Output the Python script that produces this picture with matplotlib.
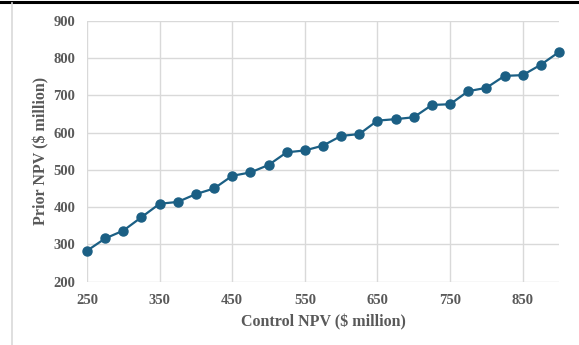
import matplotlib
matplotlib.use('Agg')
import matplotlib.pyplot as plt
from matplotlib.lines import Line2D
import numpy as np

control_npv = [250, 275, 300, 325, 350, 375, 400, 425, 450, 475, 500, 525, 550,
               575, 600, 625, 650, 675, 700, 725, 750, 775, 800, 825, 850, 875, 900]
prior_npv = [283, 316, 337, 373, 409, 414, 435, 450, 484, 493, 513, 547, 552,
             565, 591, 596, 632, 636, 641, 674, 676, 711, 720, 752, 754, 782, 816]

x_ticks = [250, 350, 450, 550, 650, 750, 850]
y_ticks = [200, 300, 400, 500, 600, 700, 800, 900]

plt.rcParams['font.family'] = ['Liberation Serif', 'DejaVu Serif']
txt_col = '#595959'

fig = plt.figure(figsize=(5.79, 3.45), dpi=100)
ax = fig.add_axes([87/579, 1 - 281.7/345, (559 - 87)/579, (281.7 - 20.7)/345])

ax.plot(control_npv, prior_npv, color='#1b5f84', lw=1.6, marker='o',
        markersize=6.5, zorder=3, clip_on=False)

ax.set_xlim(250, 900)
ax.set_ylim(200, 900)
ax.set_xticks(x_ticks)
ax.set_yticks(y_ticks)
ax.grid(True, color='#d9d9d9', lw=1.0)
ax.set_axisbelow(True)
for s in ax.spines.values():
    s.set_visible(False)
ax.tick_params(length=0, labelsize=10.5, labelcolor=txt_col, pad=8.5)
for lab in ax.get_xticklabels() + ax.get_yticklabels():
    lab.set_fontweight('bold')

ax.set_xlabel('Control NPV ($ million)', fontsize=11.5, fontweight='bold',
              color=txt_col, va='center')
ax.set_ylabel('Prior NPV ($ million)', fontsize=11.5, fontweight='bold',
              color=txt_col, va='center')
ax.xaxis.set_label_coords(0.5, (281.7 - 322) / 261)
ax.yaxis.set_label_coords((41 - 87) / 472, 0.5)

# frame pieces around the chart
fig.add_artist(Line2D([0, 1], [1 - 1.5/345, 1 - 1.5/345], color='black', lw=2.2,
                      transform=fig.transFigure))
fig.add_artist(Line2D([11.5/579, 11.5/579], [0, 1 - 3/345], color='#d9d9d9', lw=1.2,
                      transform=fig.transFigure))

fig.savefig('out.png', dpi=100)
